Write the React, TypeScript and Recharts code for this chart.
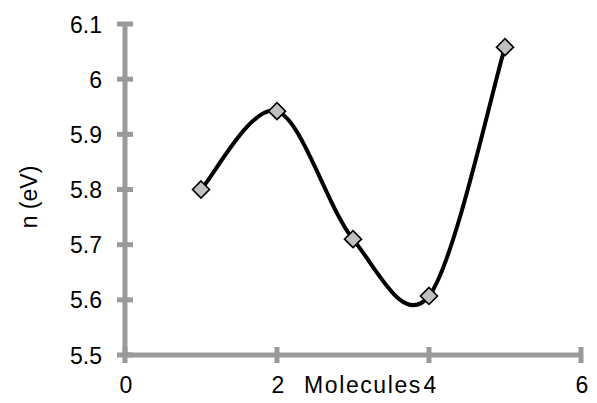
import React from 'react';
import { LineChart, Line, XAxis, YAxis } from 'recharts';

const moleculeCounts = [1, 2, 3, 4, 5];
const energyValues = [5.8, 5.942, 5.71, 5.607, 6.058];
const xTicks = [0, 2, 4, 6];
const yTicks = [5.5, 5.6, 5.7, 5.8, 5.9, 6, 6.1];

const data = moleculeCounts.map((m, i) => ({ x: m, y: energyValues[i] }));

// Excel-style smoothed line (Catmull-Rom / cardinal with tension 0)
function excelSmooth(context: any) {
  let pts: number[][] = [];
  return {
    areaStart() {},
    areaEnd() {},
    lineStart() {
      pts = [];
    },
    point(x: number, y: number) {
      pts.push([+x, +y]);
    },
    lineEnd() {
      if (!pts.length) return;
      context.moveTo(pts[0][0], pts[0][1]);
      for (let i = 0; i < pts.length - 1; i++) {
        const p0 = pts[i - 1] || pts[i];
        const p1 = pts[i];
        const p2 = pts[i + 1];
        const p3 = pts[i + 2] || pts[i + 1];
        const c1x = p1[0] + (p2[0] - p0[0]) / 6;
        const c1y = p1[1] + (p2[1] - p0[1]) / 6;
        const c2x = p2[0] - (p3[0] - p1[0]) / 6;
        const c2y = p2[1] - (p3[1] - p1[1]) / 6;
        context.bezierCurveTo(c1x, c1y, c2x, c2y, p2[0], p2[1]);
      }
    },
  };
}

const FONT = 'Liberation Sans, Arial, sans-serif';
const AXIS = '#999999';
const FS = 23;

const YTick = (props: any) => {
  const { x, y, payload } = props;
  return (
    <g>
      <line x1={x - 8} x2={x + 8} y1={y} y2={y} stroke={AXIS} strokeWidth={5} />
      <text x={x - 23} y={y + 8.5} textAnchor="end" fontSize={FS} fontFamily={FONT} fill="#000">
        {payload.value}
      </text>
    </g>
  );
};

const XTick = (props: any) => {
  const { x, y, payload } = props;
  return (
    <g>
      <line x1={x} x2={x} y1={y - 8} y2={y + 8} stroke={AXIS} strokeWidth={5} />
      <text x={x + 1} y={y + 38} textAnchor="middle" fontSize={FS} fontFamily={FONT} fill="#000">
        {payload.value}
      </text>
    </g>
  );
};

const Diamond = (props: any) => {
  const { cx, cy } = props;
  const r = 8.5;
  return (
    <path
      d={`M${cx},${cy - r}L${cx + r},${cy}L${cx},${cy + r}L${cx - r},${cy}Z`}
      fill="#c0c0c0"
      stroke="#000"
      strokeWidth={1.6}
    />
  );
};

export default function App() {
  return (
    <div style={{ position: 'absolute', left: 0, top: 0, background: '#fff' }}>
      <LineChart width={597} height={403} data={data} margin={{ top: 24, right: 16, bottom: 0, left: 0 }}>
        <XAxis
          dataKey="x"
          type="number"
          domain={[0, 6]}
          ticks={xTicks}
          height={48}
          tickSize={0}
          tickMargin={0}
          tick={<XTick />}
          axisLine={{ stroke: AXIS, strokeWidth: 5 }}
          tickLine={false}
          label={{
            value: 'Molecules',
            position: 'insideBottom',
            content: () => (
              <text
                x={363}
                y={393}
                textAnchor="middle"
                fontSize={FS}
                fontFamily={FONT}
                letterSpacing={1.6}
                fill="#000"
              >
                Molecules
              </text>
            ),
          }}
        />
        <YAxis
          type="number"
          domain={[5.5, 6.1]}
          ticks={yTicks}
          width={125}
          tickSize={0}
          tickMargin={0}
          tick={<YTick />}
          axisLine={{ stroke: AXIS, strokeWidth: 5 }}
          tickLine={false}
          label={{
            value: 'n (eV)',
            position: 'insideLeft',
            content: () => (
              <text
                x={37}
                y={197}
                textAnchor="middle"
                fontSize={FS}
                fontFamily={FONT}
                fill="#000"
                transform="rotate(-90 37 197)"
              >
                n (eV)
              </text>
            ),
          }}
        />
        <Line
          dataKey="y"
          type={excelSmooth as any}
          stroke="#000"
          strokeWidth={4}
          dot={<Diamond />}
          activeDot={false}
          isAnimationActive={false}
        />
      </LineChart>
    </div>
  );
}
